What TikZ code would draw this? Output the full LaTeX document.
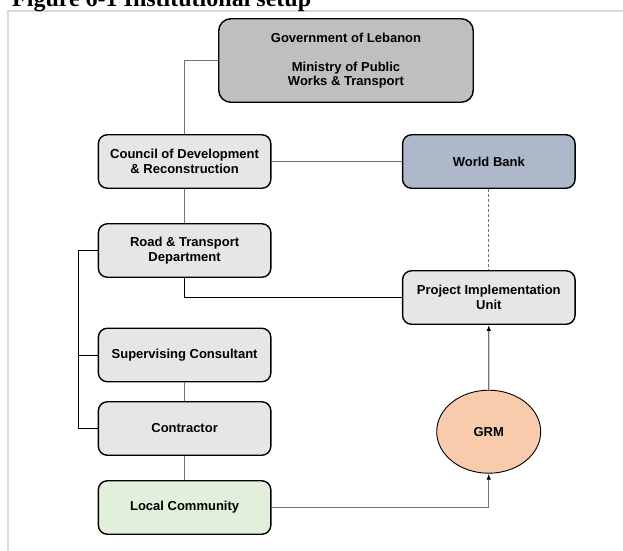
\documentclass[tikz,border=0pt]{standalone}
\usepackage{fontspec}
\setmainfont{Liberation Sans}
\newfontfamily\titlefont{Liberation Serif}
\usepackage{xcolor}
\usetikzlibrary{arrows.meta, shapes.geometric, positioning}
\tikzset{>={Latex[length=6pt,width=4.5pt,black]}}
\definecolor{govgray}{HTML}{BFBFBF}
\definecolor{boxgray}{HTML}{E6E6E6}
\definecolor{wbblue}{HTML}{ADB9CA}
\definecolor{locgreen}{HTML}{E2EFDA}
\definecolor{grmpeach}{HTML}{F8CBAD}
\definecolor{framegray}{HTML}{D9D9D9}

\begin{document}
\begin{tikzpicture}[x=1pt, y=-1pt,
    box/.style={draw, line width=1.4pt, rounded corners=9pt, fill=boxgray,
      minimum width=172.5pt, minimum height=53.5pt, align=center,
      font=\fontsize{13}{14.5}\selectfont\bfseries},
    link/.style={draw=black!55, line width=1.1pt},
    bracket/.style={draw=black, line width=0.9pt}]
  \useasboundingbox (0,0) rectangle (623,550);
  \clip (0,0) rectangle (623,550);
  \draw[framegray, line width=2pt] (8,552) -- (8,11) -- (625,11);
  \node[anchor=base west, inner sep=0pt, font=\titlefont\bfseries\fontsize{24}{24}\selectfont] (title) at (12,6) {Figure 6-1 Institutional setup};

  \node[box, fill=govgray, rounded corners=12pt, minimum width=254.5pt, minimum height=83.5pt] (gov) at (346,60.5)
    {Government of Lebanon\\[14.5pt]Ministry of Public\\Works \& Transport};
  \node[box] (cdr) at (184.6,161.5) {Council of Development\\\& Reconstruction};
  \node[box, fill=wbblue] (wb) at (488.8,161.5) {World Bank};
  \node[box] (rtd) at (184.6,250.5) {Road \& Transport\\Department};
  \node[box] (piu) at (488.8,297.5) {Project Implementation\\Unit};
  \node[box] (sup) at (184.6,355) {Supervising Consultant};
  \node[box] (con) at (184.6,428.5) {Contractor};
  \node[box, fill=locgreen] (loc) at (184.6,507.5) {Local Community};
  \node[ellipse, draw, line width=0.9pt, fill=grmpeach, inner sep=0pt,
    minimum width=104pt, minimum height=83pt, font=\fontsize{13}{14.5}\selectfont\bfseries] (grm) at (488.7,431.7) {GRM};
  \coordinate (brk) at (78.3,250.5);

  \draw[link] (gov.west) -| (cdr.north);
  \draw[link] (cdr.east) -- (wb.west);
  \draw[link] (cdr.south) -- (rtd.north);
  \draw[link, line width=0.8pt, dashed, dash pattern=on 3pt off 2pt] (wb.south) -- (piu.north);
  \draw[bracket] (rtd.south) |- (piu.west);
  \draw[bracket] (rtd.west) -- (brk) |- (con.west);
  \draw[bracket] (brk |- sup.west) -- (sup.west);
  \draw[link] (sup.south) -- (con.north);
  \draw[link] (con.south) -- (loc.north);
  \draw[link, ->] (loc.east) -| (grm.south);
  \draw[link, ->] (grm.north) -- (piu.south);
\end{tikzpicture}
\end{document}
